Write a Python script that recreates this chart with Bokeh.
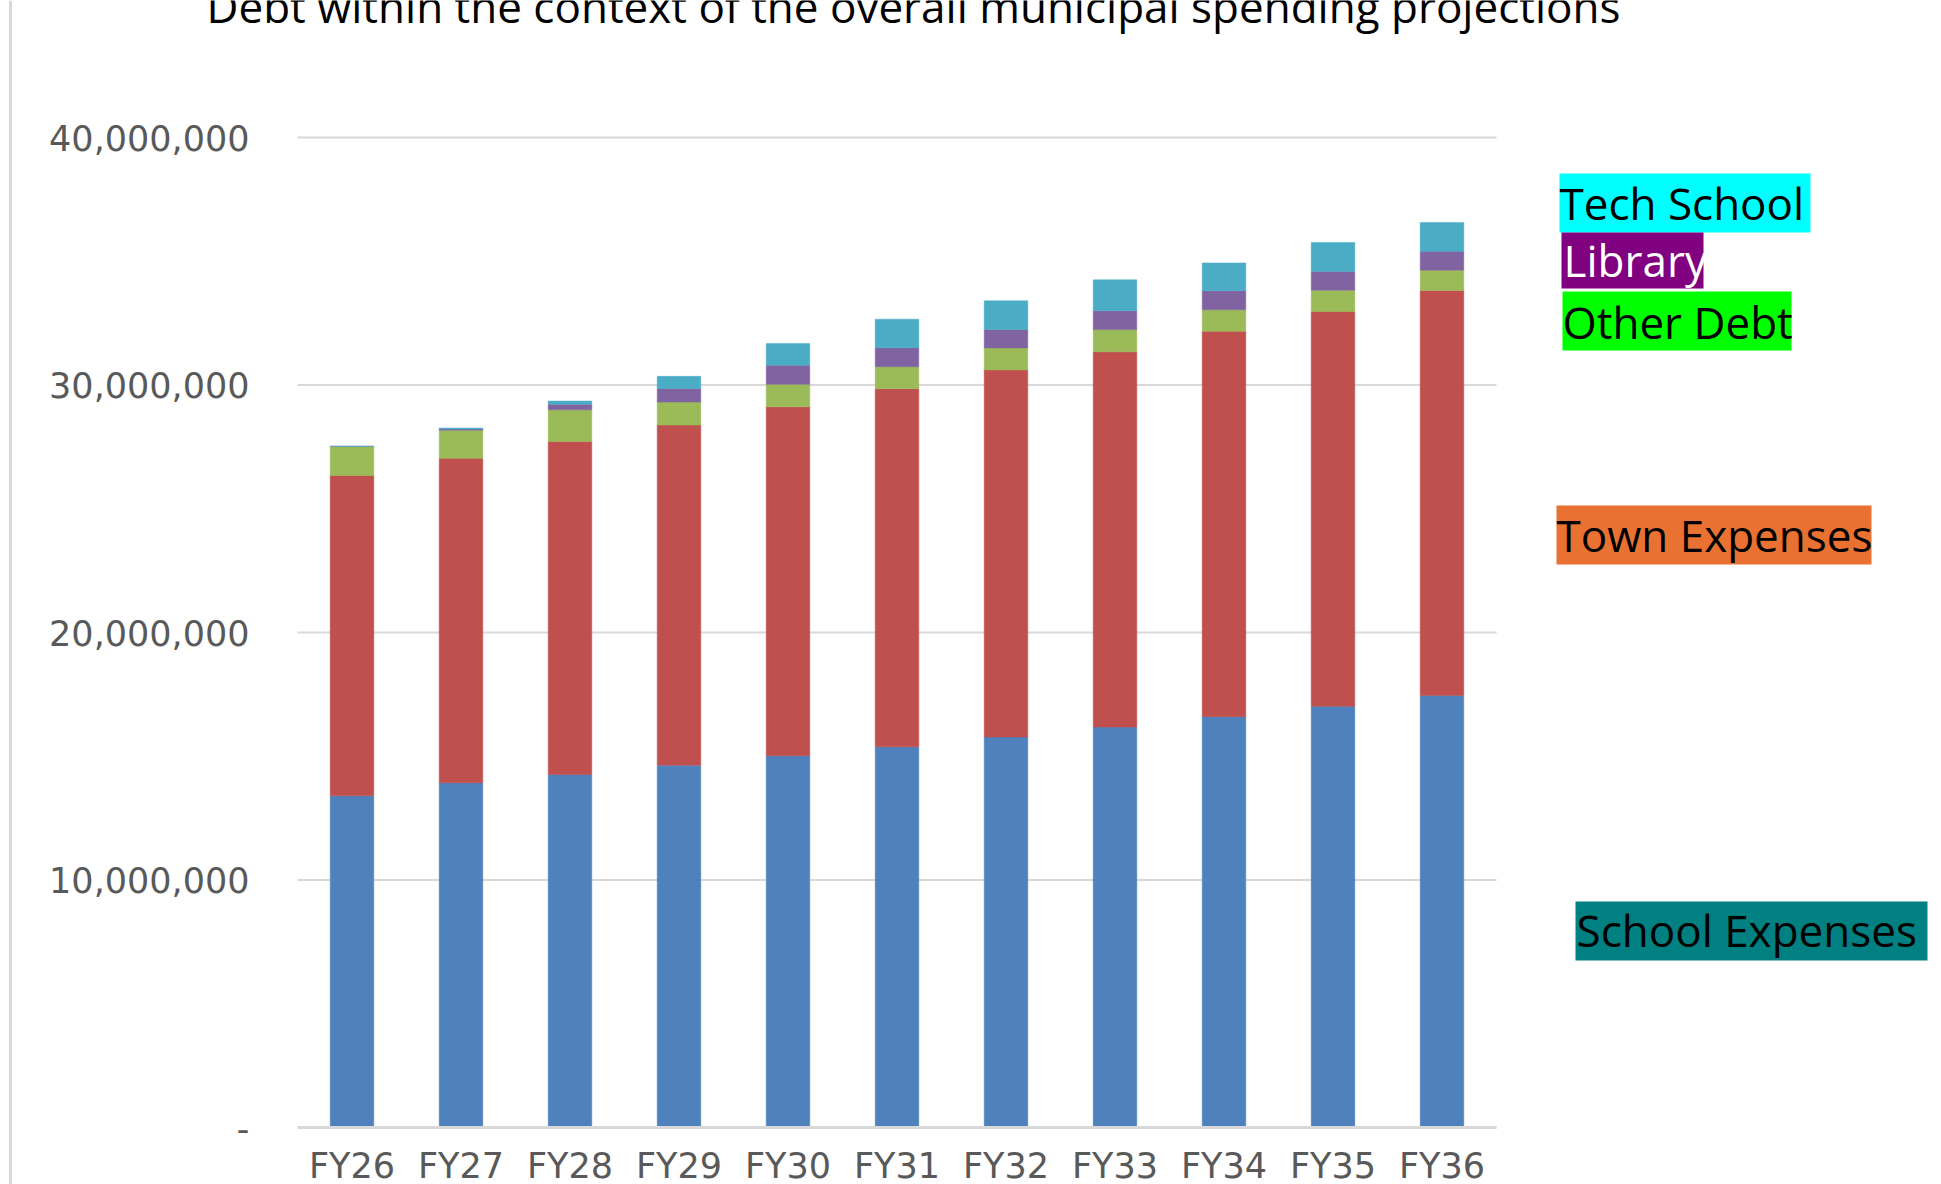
from bokeh.plotting import figure
from bokeh.models import ColumnDataSource, Range1d, FixedTicker, Label, BoxAnnotation
from bokeh.embed import file_html
from bokeh.resources import INLINE

# ---------------- data ----------------
categories = ["FY26", "FY27", "FY28", "FY29", "FY30", "FY31", "FY32", "FY33", "FY34", "FY35", "FY36"]
school_expenses = [13400000, 13930000, 14260000, 14640000, 15020000, 15380000, 15780000, 16180000, 16600000, 17020000, 17450000]
town_expenses = [12940000, 13110000, 13460000, 13740000, 14100000, 14470000, 14830000, 15160000, 15570000, 15950000, 16370000]
other_debt = [1180000, 1130000, 1280000, 930000, 910000, 890000, 890000, 900000, 870000, 860000, 820000]
library = [0, 50000, 220000, 550000, 770000, 770000, 740000, 760000, 770000, 760000, 760000]
tech_school = [0, 40000, 130000, 490000, 880000, 1150000, 1160000, 1250000, 1120000, 1170000, 1170000]

series_names = ["School Expenses", "Town Expenses", "Other Debt", "Library", "Tech School"]
y_ticks = [0, 10000000, 20000000, 30000000, 40000000]
y_tick_labels = ["-", "10,000,000", "20,000,000", "30,000,000", "40,000,000"]
title_text = "Debt within the context of the overall municipal spending projections"
legend_texts = ["Tech School", "Library", "Other Debt", "Town Expenses", "School Expenses"]

# ---------------- styles ----------------
bar_colors = ["#4F81BD", "#C0504D", "#9BBB59", "#8064A2", "#4BACC6"]
legend_fills = ["#00FFFF", "#800080", "#00FF00", "#E97132", "#008080"]
legend_text_colors = ["#000000", "#FFFFFF", "#000000", "#000000", "#000000"]
# page-pixel boxes (left, right, top, bottom) and text anchor (x, y)
legend_boxes = [(1559, 1810, 173, 232), (1561, 1703, 232, 288), (1562, 1791, 291, 350),
                (1556, 1871, 505, 564), (1575, 1927, 901, 960)]
TEXT_SHIFT = 16   # bokeh places the alphabetic anchor this much lower than the glyph baseline
legend_anchor = [(1559, 218), (1563, 275), (1562, 337), (1556, 550), (1576, 945)]

positions = list(range(len(categories)))
source = ColumnDataSource(dict(
    x=positions, cat=categories,
    s0=school_expenses, s1=town_expenses, s2=other_debt, s3=library, s4=tech_school,
))

W, H = 1941, 1184
FL, FR, FT, FB = 297, 1496, 137, 1127   # plot area in page px
n = len(categories)
CW = (FR - FL) / n                      # px per category
YMAX = 40000000
PPV = (FB - FT) / YMAX                  # px per unit value

x_start = -0.5 - FL / CW
x_end = -0.5 + (W - FL) / CW
y_start = -(H - FB) / PPV
y_end = FB / PPV

p = figure(
    x_range=Range1d(x_start, x_end),
    y_range=Range1d(y_start, y_end),
    width=W, height=H, min_border=0,
    output_backend="svg", toolbar_location=None,
)
p.extra_x_ranges = {"pgx": Range1d(0, W)}
p.extra_y_ranges = {"pgy": Range1d(H, 0)}

p.outline_line_color = None
p.background_fill_color = "white"
p.border_fill_color = "white"
p.xgrid.grid_line_color = None
p.ygrid.grid_line_color = None

# horizontal gridlines limited to the plot area, at the y tick values
p.segment(x0=[-0.5] * len(y_ticks), x1=[n - 0.5] * len(y_ticks), y0=y_ticks, y1=y_ticks,
          line_color="#D9D9D9", line_width=2)

renderers = p.vbar_stack(["s0", "s1", "s2", "s3", "s4"], x="x", width=0.4,
                         fill_color=bar_colors, line_color=bar_colors, line_width=0.5,
                         source=source)

p.yaxis.ticker = FixedTicker(ticks=y_ticks)
p.yaxis.major_label_overrides = {t: l for t, l in zip(y_ticks, y_tick_labels)}
p.yaxis.fixed_location = -0.5
p.yaxis.axis_line_color = None
p.yaxis.major_tick_line_color = None
p.yaxis.minor_tick_line_color = None
p.yaxis.major_tick_out = 0
p.yaxis.major_tick_in = 0
p.yaxis.major_label_standoff = 48
p.yaxis.major_label_text_font = "DejaVu Sans"
p.yaxis.major_label_text_font_size = "35px"
p.yaxis.major_label_text_color = "#595959"

p.xaxis.ticker = FixedTicker(ticks=positions)
p.xaxis.major_label_overrides = {i: c for i, c in zip(positions, categories)}
p.xaxis.fixed_location = 0
p.xaxis.bounds = (-0.5, n - 0.5)
p.xaxis.axis_line_color = "#D9D9D9"
p.xaxis.axis_line_width = 3
p.xaxis.major_tick_line_color = None
p.xaxis.minor_tick_line_color = None
p.xaxis.major_tick_out = 0
p.xaxis.major_tick_in = 0
p.xaxis.major_label_standoff = 18
p.xaxis.major_label_text_font = "DejaVu Sans"
p.xaxis.major_label_text_font_size = "35px"
p.xaxis.major_label_text_color = "#595959"

# left border line of the slide
p.add_layout(BoxAnnotation(left=8.5, right=11.5, top=0, bottom=H,
                           x_range_name="pgx", y_range_name="pgy",
                           fill_color="#D9D9D9", fill_alpha=1, line_color=None))

# title (partially cut at the top, as in the source slide)
p.add_layout(Label(x=206, y=21 - TEXT_SHIFT, x_range_name="pgx", y_range_name="pgy",
                   text=title_text, text_font="Open Sans", text_font_size="44px",
                   text_color="#000000", text_align="left", text_baseline="alphabetic"))

# highlighted legend texts
for txt, fc, tc, (l, r, t, b), (ax, ay) in zip(legend_texts, legend_fills, legend_text_colors,
                                                legend_boxes, legend_anchor):
    p.add_layout(BoxAnnotation(left=l, right=r, top=t, bottom=b,
                               x_range_name="pgx", y_range_name="pgy",
                               fill_color=fc, fill_alpha=1, line_color=None))
    p.add_layout(Label(x=ax, y=ay - TEXT_SHIFT, x_range_name="pgx", y_range_name="pgy",
                       text=txt, text_font="Open Sans", text_font_size="44px",
                       text_color=tc, text_align="left", text_baseline="alphabetic"))

open("out.html", "w").write(file_html(p, INLINE))
